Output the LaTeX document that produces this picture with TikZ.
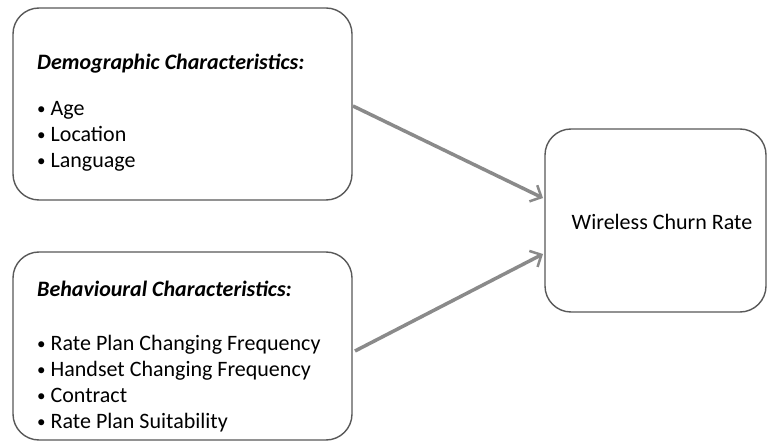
\documentclass[tikz,border=0pt]{standalone}
\usepackage{fontspec}
\setmainfont{Carlito}
\usetikzlibrary{arrows.meta}
\definecolor{boxline}{HTML}{595959}
\definecolor{arrowgray}{HTML}{8A8A8A}
\newcommand\mybul{\raisebox{1.2pt}{\fontsize{17}{17}\selectfont•}\hspace{5pt}}
\begin{document}
\begin{tikzpicture}[x=1pt,y=-1pt,
  roundbox/.style={draw=boxline,line width=1.4pt,rounded corners=26pt,fill=white},
  boxtext/.style={anchor=north west,align=left,inner sep=0pt,font=\fontsize{22}{26}\selectfont,text=black},
  link/.style={draw=arrowgray,line width=3.5pt,-{Straight Barb[length=9pt,width=18pt,line width=2.5pt]}}]
\useasboundingbox (0,0) rectangle (768,446);
\fill[white] (0,0) rectangle (768,446);
% boxes
\draw[roundbox] (13,8) rectangle (352,200);
\node[inner sep=0pt,minimum width=339pt,minimum height=192pt] (demo) at (182.5,104) {};
\draw[roundbox] (13,252) rectangle (352,440);
\node[inner sep=0pt,minimum width=339pt,minimum height=188pt] (behav) at (182.5,346) {};
\draw[roundbox] (545,129) rectangle (766,312);
\node[inner sep=0pt,minimum width=221pt,minimum height=183pt,font=\fontsize{22}{24}\selectfont,text=black] (churn) at (662,222) {Wireless Churn Rate};
% texts
\node[boxtext] (demotext) at (37,54) {\textbf{\textit{Demographic Characteristics:}}\\[20pt]
\mybul Age\\ \mybul Location\\ \mybul Language};
\node[boxtext] (behavtext) at (37,281) {\textbf{\textit{Behavioural Characteristics:}}\\[28pt]
\mybul Rate Plan Changing Frequency\\ \mybul Handset Changing Frequency\\ \mybul Contract\\ \mybul Rate Plan Suitability};
% arrows
\coordinate (a1s) at (353,106);
\coordinate (a1e) at (543,198);
\coordinate (a2s) at (355,351);
\coordinate (a2e) at (543,254);
\draw[link] (a1s) -- (a1e);
\draw[link] (a2s) -- (a2e);
\end{tikzpicture}
\end{document}
